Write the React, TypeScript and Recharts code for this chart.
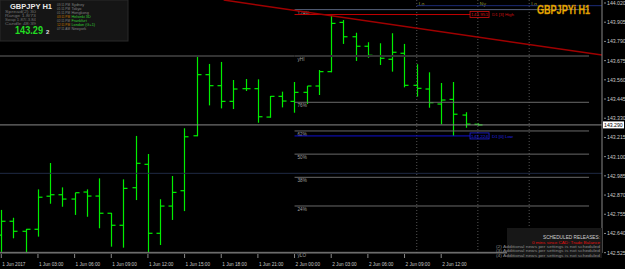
import { ComposedChart, Bar, XAxis, YAxis, ReferenceLine } from 'recharts'

// hourly bars, 1 Jun 00:00 .. 2 Jun 15:00
const opens = [
  142.630, 142.713, 142.653, 142.665, 142.863, 142.872, 142.846, 142.888, 142.864, 142.761,
  142.689, 142.914, 143.054, 142.641, 142.804, 142.896, 143.225, 143.591, 143.525, 143.431,
  143.507, 143.507, 143.337, 143.461, 143.431, 143.485, 143.523, 143.609, 143.904, 143.818,
  143.761, 143.701, 143.683, 143.719, 143.527, 143.505, 143.415, 143.443, 143.349, 143.294,
]
const highs = [
  142.781, 142.734, 142.667, 142.904, 143.062, 142.916, 142.884, 142.904, 142.970, 142.763,
  142.964, 143.224, 143.116, 142.845, 142.984, 143.270, 143.703, 143.655, 143.667, 143.559,
  143.565, 143.563, 143.463, 143.489, 143.547, 143.523, 143.619, 143.951, 143.918, 143.842,
  143.785, 143.779, 143.839, 143.775, 143.653, 143.605, 143.541, 143.547, 143.366, 143.300,
]
const lows = [
  142.530, 142.611, 142.527, 142.621, 142.818, 142.800, 142.751, 142.740, 142.671, 142.561,
  142.555, 142.840, 142.529, 142.571, 142.721, 142.774, 143.222, 143.407, 143.389, 143.385,
  143.493, 143.303, 143.333, 143.395, 143.363, 143.415, 143.469, 143.605, 143.775, 143.673,
  143.692, 143.649, 143.609, 143.515, 143.459, 143.393, 143.294, 143.224, 143.273, 143.286,
]
const closes = [
  142.713, 142.653, 142.665, 142.857, 142.872, 142.846, 142.884, 142.864, 142.761, 142.689,
  142.910, 143.060, 142.641, 142.804, 142.886, 143.219, 143.591, 143.525, 143.431, 143.505,
  143.507, 143.339, 143.461, 143.433, 143.485, 143.523, 143.609, 143.898, 143.818, 143.761,
  143.707, 143.689, 143.725, 143.527, 143.509, 143.423, 143.439, 143.354, 143.295, 143.290,
]

const tickIdx = [0, 3, 6, 9, 12, 15, 18, 21, 24, 27, 30, 33, 36]
const tickLabels = [
  '1 Jun 2017', '1 Jun 03:00', '1 Jun 06:00', '1 Jun 09:00', '1 Jun 12:00', '1 Jun 15:00',
  '1 Jun 18:00', '1 Jun 21:00', '2 Jun 00:00', '2 Jun 03:00', '2 Jun 06:00', '2 Jun 09:00',
  '2 Jun 12:00',
]
const priceTicks = [
  144.020, 143.905, 143.790, 143.675, 143.560, 143.445, 143.330, 143.215, 143.100,
  142.985, 142.870, 142.755, 142.640, 142.525,
]

const bid = 143.290
const yHigh = 143.703
const yLow = 142.527
const d1High = 143.951
const d1Low = 143.224
const fibRatios = [1.236, 0.764, 0.618, 0.5, 0.382, 0.236]
const fibNames = ['124%', '76%', '62%', '50%', '38%', '24%']
const sessions = [
  { at: 34, name: 'Lo' },
  { at: 39, name: 'Ny' },
  { at: 43.2, name: 'Lo' },
]

const clockTimes = ['03:11 PM', '01:11 PM', '01:11 PM', '03:11 PM', '02:11 PM', '12:11 PM', '07:11 AM']
const clockCities = ['Sydney', 'Tokyo', 'Hongkong', 'Helsinki 3D', 'Frankfurt', 'London (G+1)', 'Newyork']
const infoLines = ['Spread(2) 30', 'Range 1.8/73', 'Swap 1.87/-3.84', 'Candle 48:39']
const newsLines = [
  '(2) Additional news per settings is not scheduled',
  '(3) Additional news per settings is not scheduled',
  '(4) Additional news per settings is not scheduled',
]

const data = opens.map((o, i) => ({
  idx: i,
  open: o,
  high: highs[i],
  low: lows[i],
  close: closes[i],
  range: [lows[i], highs[i]],
}))

const FONT = 'Liberation Sans, Arial, sans-serif'
const GREEN = '#00ee00'
const DAY_START = 24
const FIB_END = 48.1
const LABEL_END = 38.36

function OhlcBar(props: any) {
  const { x, y, width, height, payload } = props
  if (!payload) return null
  const cx = Math.round(x + width / 2) + 0.5
  const span = payload.high - payload.low || 1
  const toY = (p: number) => y + ((payload.high - p) / span) * height
  const oy = toY(payload.open)
  const cy = toY(payload.close)
  return (
    <g stroke={GREEN} strokeWidth={1.2}>
      <line x1={cx} x2={cx} y1={y} y2={y + Math.max(height, 1)} />
      <line x1={cx - 4} x2={cx} y1={oy} y2={oy} />
      <line x1={cx} x2={cx + 4} y1={cy} y2={cy} />
    </g>
  )
}

function PriceTick({ x, y, payload }: any) {
  return (
    <g>
      <line x1={x - 4} x2={x - 2} y1={y} y2={y} stroke="#888" />
      <text x={x - 1} y={y + 2} fontSize={5.2} fill="#c8c8c8" fontFamily={FONT}>
        {payload.value.toFixed(3)}
      </text>
    </g>
  )
}

function TimeTick({ x, payload }: any) {
  const i = tickIdx.indexOf(payload.value)
  return (
    <g>
      <line x1={x} x2={x} y1={254} y2={258} stroke="#888" />
      <text x={x + 1} y={265.5} fontSize={4.7} fill="#c8c8c8" fontFamily={FONT}>
        {tickLabels[i]}
      </text>
    </g>
  )
}

const fibLabel = (name: string) => (p: any) => (
  <text x={p.viewBox.x + 3} y={p.viewBox.y + 5} fontSize={4.6} fill="#a0a0a0" fontFamily={FONT}>
    {name}
  </text>
)

const boxLabel = (value: string, tag: string, color: string) => (p: any) => {
  const bx = p.viewBox.x + p.viewBox.width
  const by = p.viewBox.y
  return (
    <g fontFamily={FONT} fontSize={4.4} fill={color}>
      <rect x={bx} y={by - 3} width={19} height={6} fill="none" stroke={color} strokeWidth={0.8} />
      <text x={bx + 1} y={by + 1.6} textLength={17} lengthAdjust="spacingAndGlyphs">{value}</text>
      <text x={bx + 22} y={by + 1.6}>{tag}</text>
    </g>
  )
}

const bidLabel = (p: any) => {
  const bx = p.viewBox.x + p.viewBox.width + 1
  const by = p.viewBox.y
  return (
    <g>
      <rect x={bx} y={by - 3.5} width={21} height={7} fill="#fff" />
      <text x={bx + 1} y={by + 2} fontSize={5.2} fill="#000" fontFamily={FONT}>
        {bid.toFixed(3)}
      </text>
    </g>
  )
}

export default function App() {
  const fibPrice = (r: number) => yLow + r * (yHigh - yLow)
  return (
    <div style={{ position: 'fixed', left: 0, top: 0, width: 625, height: 269, background: '#000', overflow: 'hidden' }}>
      <ComposedChart width={625} height={269} data={data} margin={{ top: 0, right: 0, bottom: 0, left: 0 }}>
        <XAxis
          type="number"
          dataKey="idx"
          domain={[-0.106, 49.16]}
          allowDataOverflow
          ticks={tickIdx}
          interval={0}
          tick={<TimeTick />}
          tickLine={false}
          axisLine={{ stroke: '#777' }}
          height={16}
        />
        <YAxis
          orientation="right"
          width={23}
          domain={[142.523, 144.038]}
          allowDataOverflow
          ticks={priceTicks}
          interval={0}
          tick={<PriceTick />}
          tickLine={false}
          tickSize={4}
          axisLine={{ stroke: '#888' }}
        />

        {/* round level and bid line, full width */}
        <ReferenceLine y={143.0} stroke="#1f2a44" strokeWidth={1} />
        <ReferenceLine y={bid} stroke="#8a8a8a" strokeWidth={1} label={bidLabel} />

        {/* session markers */}
        {sessions.map((s, i) => (
          <ReferenceLine
            key={`s-${i}`}
            x={s.at}
            stroke="#555"
            strokeDasharray="1 2"
            label={(p: any) => (
              <text x={p.viewBox.x + 2} y={6} fontSize={5} fill="#9a9a30" fontFamily={FONT}>
                {s.name}
              </text>
            )}
          />
        ))}
        <ReferenceLine segment={[{ x: 34, y: 144.004 }, { x: 49.16, y: 144.004 }]} stroke="#1c2c78" ifOverflow="visible" />

        {/* yesterday high / low */}
        <ReferenceLine segment={[{ x: -0.106, y: yHigh }, { x: DAY_START, y: yHigh }]} stroke="#333" strokeWidth={2} ifOverflow="visible" />
        <ReferenceLine segment={[{ x: DAY_START, y: yHigh }, { x: FIB_END, y: yHigh }]} stroke="#333" strokeWidth={2} ifOverflow="visible" label={fibLabel('yHI')} />
        <ReferenceLine segment={[{ x: -0.106, y: yLow }, { x: DAY_START, y: yLow }]} stroke="#777" ifOverflow="visible" />
        <ReferenceLine segment={[{ x: DAY_START, y: yLow }, { x: 49.16, y: yLow }]} stroke="#777" ifOverflow="visible" label={fibLabel('yLO')} />

        {/* fibonacci levels */}
        {fibRatios.map((r, i) => (
          <ReferenceLine
            key={`f-${i}`}
            segment={[{ x: DAY_START, y: fibPrice(r) }, { x: FIB_END, y: fibPrice(r) }]}
            stroke={r > 1 ? '#56607a' : '#6a6a6a'}
            ifOverflow="visible"
            label={fibLabel(fibNames[i])}
          />
        ))}

        {/* day high / low */}
        <ReferenceLine segment={[{ x: DAY_START, y: d1High }, { x: LABEL_END, y: d1High }]} stroke="#c00000" ifOverflow="visible" label={boxLabel(d1High.toFixed(3), 'D1 [3] High', '#d01010')} />
        <ReferenceLine segment={[{ x: DAY_START, y: d1Low }, { x: LABEL_END, y: d1Low }]} stroke="#1010d0" ifOverflow="visible" label={boxLabel(d1Low.toFixed(3), 'D1 [0] Low', '#2020e0')} />

        {/* trend line */}
        <ReferenceLine segment={[{ x: 18.2, y: 144.038 }, { x: 49.16, y: 143.708 }]} stroke="#a00000" strokeWidth={1.5} ifOverflow="hidden" />

        <Bar dataKey="range" barSize={8} shape={<OhlcBar />} isAnimationActive={false} />
      </ComposedChart>

      <svg width={625} height={269} style={{ position: 'absolute', left: 0, top: 0, pointerEvents: 'none' }} fontFamily={FONT}>
        {/* info panel */}
        <rect x={0} y={0} width={128} height={41} fill="#151515" stroke="#2a2a2a" />
        <text x={10} y={8.5} fontSize={7} fontWeight="bold" fill="#e8e8e8" textLength={42} lengthAdjust="spacingAndGlyphs">GBPJPY  H1</text>
        {infoLines.map((t, i) => (
          <text key={`i-${i}`} x={5} y={13 + i * 4} fontSize={4} fill="#707070" textLength={31} lengthAdjust="spacingAndGlyphs">{t}</text>
        ))}
        <text x={15} y={34} fontSize={10} fontWeight="bold" fill="#22dd22" textLength={28} lengthAdjust="spacingAndGlyphs">143.29</text>
        <text x={46} y={34} fontSize={6} fontWeight="bold" fill="#e0e0e0">2</text>
        {clockTimes.map((t, i) => (
          <g key={`c-${i}`} fontSize={3.8}>
            <text x={57} y={6 + i * 4} fill={i === 3 || i === 5 ? '#c87800' : '#808080'} textLength={13} lengthAdjust="spacingAndGlyphs">{t}</text>
            <text x={71.5} y={6 + i * 4} fill={i >= 3 && i <= 5 ? '#33cc33' : '#808080'}>{clockCities[i]}</text>
          </g>
        ))}

        {/* symbol title */}
        <text x={537} y={13.5} fontSize={12} fontWeight="bold" fill="#f2b400" stroke="#b07000" strokeWidth={0.3} textLength={53} lengthAdjust="spacingAndGlyphs">GBPJPYi H1</text>

        {/* news box */}
        <rect x={507} y={228} width={95} height={30} fill="#171717" />
        <text x={600} y={239} fontSize={4.8} fill="#d0d0d0" textAnchor="end" textLength={57} lengthAdjust="spacingAndGlyphs">SCHEDULED RELEASES:</text>
        <text x={600} y={243.5} fontSize={4.4} fill="#e01010" textAnchor="end" textLength={68} lengthAdjust="spacingAndGlyphs">0 mins since CAD: Trade Balance</text>
        {newsLines.map((t, i) => (
          <text key={`n-${i}`} x={600} y={248 + i * 4.3} fontSize={4.2} fill="#8a8a8a" textAnchor="end" textLength={104} lengthAdjust="spacingAndGlyphs">{t}</text>
        ))}
      </svg>
    </div>
  )
}
